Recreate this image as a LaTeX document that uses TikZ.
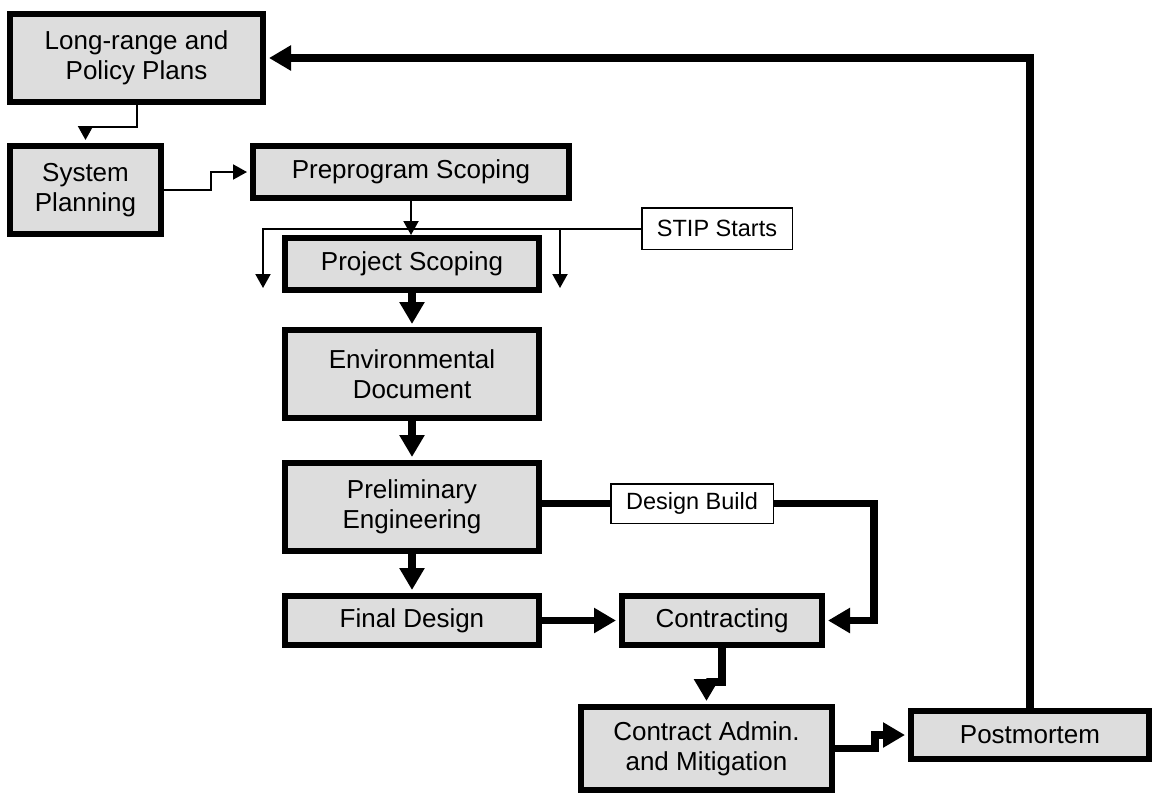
\documentclass[tikz,border=0pt]{standalone}
\usepackage{fontspec}
\setmainfont{Liberation Sans}
\usetikzlibrary{arrows.meta}
\definecolor{boxgray}{HTML}{DDDDDD}
\begin{document}
\begin{tikzpicture}[x=1pt,y=-1pt,
 stage/.style={draw=black, fill=boxgray, line width=6pt, inner sep=0pt, align=center, font=\fontsize{26}{30}\selectfont},
 tag/.style={draw=black, fill=white, line width=1.5pt, inner sep=0pt, font=\fontsize{23.5}{27}\selectfont},
 thinarrow/.style={line width=2pt, -{Triangle[length=14pt,width=15pt]}},
 thinline/.style={line width=2pt},
 thickarrow/.style={line width=7.5pt, -{Triangle[length=22pt,width=24pt]}, shorten >=3pt},
 thickline/.style={line width=7.5pt}]
\useasboundingbox (0,0) rectangle (1156,796);
% stages
\node[stage, minimum width=253pt, minimum height=88pt] (lr) at (136.5,58) {Long-range and\\Policy Plans};
\node[stage, minimum width=151pt, minimum height=88pt] (sp) at (85.5,190) {System\\Planning};
\node[stage, minimum width=316pt, minimum height=52pt] (pre) at (411,172) {Preprogram Scoping};
\node[stage, minimum width=254pt, minimum height=52pt] (ps) at (412,264) {Project Scoping};
\node[stage, minimum width=254pt, minimum height=88pt] (env) at (412,374) {Environmental\\Document};
\node[stage, minimum width=254pt, minimum height=88pt] (pe) at (412,507) {Preliminary\\Engineering};
\node[stage, minimum width=254pt, minimum height=49pt] (fd) at (412,620.5) {Final Design};
\node[stage, minimum width=200pt, minimum height=49pt] (con) at (722,620.5) {Contracting};
\node[stage, minimum width=251pt, minimum height=83pt] (ca) at (706.5,748.5) {Contract Admin.\\and Mitigation};
\node[stage, minimum width=238pt, minimum height=48pt] (pm) at (1030,735) {Postmortem};
% tags
\node[tag, minimum width=162.5pt, minimum height=39.5pt] (db) at (692,503.5) {Design Build};
\node[tag, minimum width=150.5pt, minimum height=41.5pt] (stip) at (717,228.5) {STIP Starts};
% coordinates for free ends
\coordinate (l1) at (263,288);
\coordinate (r1) at (560,228.5);
\coordinate (r2) at (560,288);
% thin connectors
\draw[thinarrow, shorten >=3pt] (lr.south) -- ++(0,22) -| (sp.north);
\draw[thinarrow, shorten >=3pt] (sp.east) -- ++(47,0) |- (pre.west);
\draw[thinarrow] (pre.south) -- ++(0,34);
\draw[thinarrow] (stip.west) -| (l1);
\draw[thinarrow] (r1) -- (r2);
% thick connectors
\draw[thickarrow] (ps.south) -- (env.north);
\draw[thickarrow] (env.south) -- (pe.north);
\draw[thickarrow] (pe.south) -- (fd.north);
\draw[thickarrow] (fd.east) -- (con.west);
\draw[thickline] (pe.east |- db.west) -- (db.west);
\draw[thickarrow] (db.east) -- ++(100,0) |- (con.east);
\draw[thickarrow] (con.south) -- ++(0,34) -| (ca.north);
\draw[thickarrow] (ca.east) -- ++(40,0) |- (pm.west);
\draw[thickarrow] (pm.north) |- (lr.east);
\end{tikzpicture}
\end{document}
